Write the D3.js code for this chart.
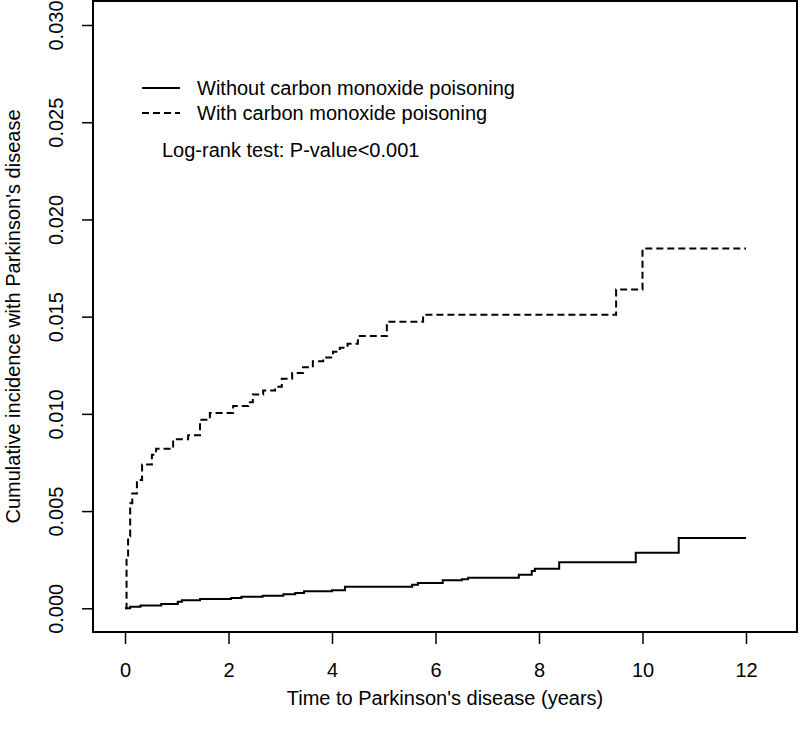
<!DOCTYPE html>
<html>
<head>
<meta charset="utf-8">
<script src="https://cdn.jsdelivr.net/npm/d3@7"></script>
<style>
  body { margin: 0; background: #fff; }
  svg text { font-family: "Liberation Sans", Arial, sans-serif; font-size: 20px; fill: #000; }
</style>
</head>
<body>
<div id="chart"></div>
<script>
// cumulative incidence step curves
var timeWithout = [0, 0.1, 0.3, 0.7, 1.02, 1.1, 1.45, 2.05, 2.25, 2.66, 3.06, 3.29, 3.46, 4.0, 4.25, 5.55, 5.66, 6.14, 6.51, 6.63, 7.61, 7.86, 7.92, 8.39, 9.87, 10.7, 12];
var cumWithout  = [0, 0.00008, 0.00015, 0.00022, 0.00034, 0.00042, 0.00048, 0.00053, 0.0006, 0.00065, 0.00072, 0.00079, 0.00088, 0.00093, 0.00111, 0.00121, 0.0013, 0.00144, 0.00149, 0.00157, 0.00173, 0.00192, 0.00204, 0.00237, 0.00286, 0.00362, 0.00362];

var timeWith = [0, 0.03, 0.06, 0.10, 0.14, 0.23, 0.33, 0.52, 0.60, 0.93, 1.22, 1.45, 1.64, 2.09, 2.38, 2.47, 2.67, 2.90, 3.03, 3.23, 3.44, 3.63, 3.83, 4.02, 4.15, 4.30, 4.50, 5.06, 5.76, 9.49, 10.0, 12];
var cumWith  = [0, 0.0025, 0.0037, 0.0054, 0.0059, 0.0066, 0.0074, 0.0079, 0.0082, 0.0087, 0.0089, 0.0097, 0.01005, 0.0104, 0.0106, 0.011, 0.0112, 0.0114, 0.0118, 0.0121, 0.0124, 0.0127, 0.0129, 0.0132, 0.0134, 0.0136, 0.0140, 0.01474, 0.0151, 0.0164, 0.0185, 0.0185];

var xTicks = [0, 2, 4, 6, 8, 10, 12];
var yTicks = [0, 0.005, 0.010, 0.015, 0.020, 0.025, 0.030];

var legendLabels = ["Without carbon monoxide poisoning", "With carbon monoxide poisoning"];
var testLabel = "Log-rank test: P-value<0.001";

var width = 800, height = 731;
var box = {left: 93, top: 1, right: 797, bottom: 632};

var svg = d3.select("#chart").append("svg")
  .attr("width", width)
  .attr("height", height);

var x = d3.scaleLinear().domain([0, 12]).range([125, 746]);
var y = d3.scaleLinear().domain([0, 0.03]).range([608.3, 25]);

//plot frame
svg.append("rect")
  .attr("x", box.left)
  .attr("y", box.top)
  .attr("width", box.right - box.left)
  .attr("height", box.bottom - box.top)
  .attr("fill", "none")
  .attr("stroke", "#000")
  .attr("stroke-width", 2);

//x axis
var xAxis = svg.append("g")
  .attr("transform", "translate(0," + box.bottom + ")")
  .call(d3.axisBottom(x).tickValues(xTicks).tickSize(12).tickFormat(d3.format("d")));
xAxis.select(".domain").remove();
xAxis.selectAll("line").attr("stroke", "#000").attr("stroke-width", 1.5);
xAxis.selectAll("text")
  .attr("y", 45)
  .attr("dy", 0)
  .attr("font-size", null)
  .attr("font-family", null);

//y axis
var yAxis = svg.append("g")
  .attr("transform", "translate(" + box.left + ",0)")
  .call(d3.axisLeft(y).tickValues(yTicks).tickSize(11).tickFormat(d3.format(".3f")));
yAxis.select(".domain").remove();
yAxis.selectAll("line").attr("stroke", "#000").attr("stroke-width", 1.5);
yAxis.selectAll("text")
  .attr("x", 0)
  .attr("dy", 0)
  .attr("text-anchor", "middle")
  .attr("transform", "translate(-30,0) rotate(-90)")
  .attr("font-size", null)
  .attr("font-family", null);

//axis titles
svg.append("text")
  .attr("x", (box.left + box.right) / 2)
  .attr("y", 705)
  .attr("text-anchor", "middle")
  .text("Time to Parkinson's disease (years)");

svg.append("text")
  .attr("transform", "translate(20," + ((box.top + box.bottom) / 2) + ") rotate(-90)")
  .attr("text-anchor", "middle")
  .text("Cumulative incidence with Parkinson's disease");

//curves
var line = d3.line()
  .curve(d3.curveStepAfter)
  .x(function(d) { return x(d[0]); })
  .y(function(d) { return y(d[1]); });

var seriesWithout = timeWithout.map(function(t, i) { return [t, cumWithout[i]]; });
var seriesWith = timeWith.map(function(t, i) { return [t, cumWith[i]]; });

svg.append("path")
  .datum(seriesWithout)
  .attr("fill", "none")
  .attr("stroke", "#000")
  .attr("stroke-width", 2)
  .attr("d", line);

svg.append("path")
  .datum(seriesWith)
  .attr("fill", "none")
  .attr("stroke", "#000")
  .attr("stroke-width", 2)
  .attr("stroke-dasharray", "7,4")
  .attr("d", line);

//legend
var legend = svg.selectAll(".legend")
  .data(legendLabels)
  .enter().append("g")
  .attr("class", "legend")
  .attr("transform", function(d, i) { return "translate(0," + (88 + i * 25) + ")"; });

legend.append("line")
  .attr("x1", 142)
  .attr("x2", 180)
  .attr("y1", 0)
  .attr("y2", 0)
  .attr("stroke", "#000")
  .attr("stroke-width", 2)
  .attr("stroke-dasharray", function(d, i) { return i == 1 ? "7,4" : null; });

legend.append("text")
  .attr("x", 197)
  .attr("y", 7)
  .text(function(d) { return d; });

svg.append("text")
  .attr("x", 162)
  .attr("y", 157)
  .text(testLabel);
</script>
</body>
</html>
